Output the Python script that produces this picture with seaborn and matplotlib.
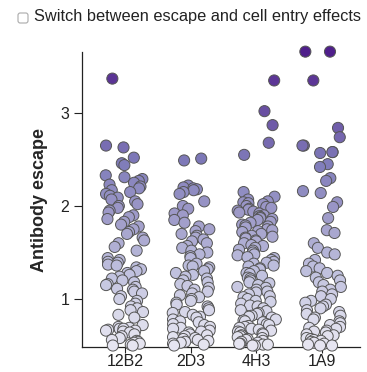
#!/usr/bin/env python3

import numpy as np
import pandas as pd
import matplotlib.pyplot as plt
import seaborn as sns
from matplotlib.patches import FancyBboxPatch

SET_DPI = 100
FIGSIZE = (3.67, 3.72)

ANTIBODIES = ['12B2', '2D3', '4H3', '1A9']

ESCAPE_12B2 = [3.37, 2.65, 2.63, 2.52, 2.46, 2.44,
               2.33, 2.31, 2.29, 2.27, 2.25, 2.23, 2.21, 2.19, 2.17, 2.15, 2.13, 2.11, 2.09, 2.07,
               2.05, 2.02, 2.0, 1.98, 1.95, 1.93, 1.9, 1.88, 1.86, 1.83, 1.8, 1.78, 1.75, 1.72, 1.7,
               1.66, 1.63, 1.6, 1.56, 1.52,
               1.44, 1.42, 1.4, 1.39, 1.37, 1.36, 1.34, 1.32, 1.3, 1.28, 1.26, 1.24, 1.22, 1.2,
               1.18, 1.16, 1.15, 1.13, 1.11, 1.1, 1.08, 1.06,
               1.03, 1.0, 0.98, 0.95, 0.92, 0.9, 0.88, 0.86, 0.83, 0.8,
               0.72, 0.7, 0.69, 0.68, 0.68, 0.67, 0.66, 0.66, 0.65, 0.64, 0.62, 0.6, 0.58,
               0.56, 0.55, 0.54, 0.53, 0.52, 0.51, 0.5, 0.5]

ESCAPE_2D3 = [2.51, 2.49, 2.22, 2.2, 2.19, 2.18, 2.17, 2.15, 2.13,
              2.05, 2.0, 1.97, 1.92, 1.9, 1.85, 1.82, 1.78, 1.75, 1.73, 1.7, 1.68, 1.66, 1.64,
              1.62, 1.6, 1.57, 1.55, 1.52, 1.5, 1.48, 1.46, 1.44,
              1.38, 1.36, 1.35, 1.34, 1.32, 1.3, 1.28, 1.26, 1.24, 1.22, 1.2, 1.18, 1.16, 1.14,
              1.12, 1.1, 1.08, 1.06, 1.04, 1.02, 1.0,
              0.98, 0.96, 0.94, 0.92, 0.9, 0.88, 0.86, 0.85, 0.83, 0.81, 0.8, 0.78, 0.76, 0.75,
              0.73, 0.72, 0.7, 0.69, 0.68, 0.66, 0.65, 0.64, 0.62, 0.61, 0.6, 0.59, 0.58, 0.57,
              0.56, 0.55, 0.54, 0.53, 0.52, 0.51, 0.5]

ESCAPE_4H3 = [3.35, 3.02, 2.87, 2.68, 2.55,
              2.15, 2.1, 2.07, 2.05, 2.04, 2.03, 2.02, 2.0, 1.99, 1.98, 1.97, 1.96, 1.95, 1.94,
              1.93, 1.92, 1.9, 1.89, 1.88, 1.87, 1.86, 1.85, 1.83, 1.82, 1.8, 1.79, 1.78, 1.77,
              1.75, 1.74, 1.73, 1.72, 1.7, 1.68, 1.67, 1.66, 1.65, 1.63, 1.62, 1.6, 1.58, 1.57,
              1.55, 1.53, 1.52, 1.5, 1.48, 1.47, 1.45, 1.44, 1.42, 1.4, 1.39, 1.38, 1.36, 1.35,
              1.33, 1.32, 1.3, 1.28, 1.27, 1.25, 1.23, 1.22, 1.2, 1.18, 1.17, 1.15, 1.13, 1.12,
              1.1, 1.08, 1.07, 1.05, 1.03, 1.02, 1.0, 0.98, 0.97, 0.95, 0.93, 0.92, 0.9, 0.88,
              0.87, 0.85, 0.84, 0.82, 0.81, 0.8, 0.78, 0.77, 0.76, 0.75, 0.73, 0.72, 0.71, 0.7,
              0.69, 0.68, 0.67, 0.66, 0.65, 0.64, 0.63, 0.62, 0.61, 0.6, 0.59, 0.58, 0.57, 0.56,
              0.55, 0.54, 0.53, 0.52, 0.52, 0.51, 0.51, 0.5, 0.5]

ESCAPE_1A9 = [3.66, 3.66, 3.35, 2.84, 2.74, 2.65, 2.65, 2.58, 2.57, 2.58, 2.45, 2.42, 2.3,
              2.27, 2.16, 2.14, 2.04,
              1.99, 1.87, 1.74, 1.71, 1.6, 1.55, 1.5, 1.48,
              1.42, 1.38, 1.35, 1.33, 1.3, 1.28, 1.25, 1.23, 1.2, 1.18, 1.15, 1.13, 1.1, 1.08,
              1.05, 1.03, 1.0, 0.98, 0.96, 0.94, 0.92, 0.9, 0.88, 0.86, 0.84, 0.82, 0.8, 0.78,
              0.76, 0.74, 0.72, 0.7, 0.69, 0.68, 0.66, 0.65, 0.64, 0.62, 0.61, 0.6, 0.58, 0.57,
              0.56, 0.55, 0.54, 0.53, 0.52, 0.51, 0.5, 0.5]

YTICKS = [1, 2, 3]

escape_lists = [ESCAPE_12B2, ESCAPE_2D3, ESCAPE_4H3, ESCAPE_1A9]
df = pd.concat([pd.DataFrame({'antibody': ab, 'escape': vals})
                for ab, vals in zip(ANTIBODIES, escape_lists)], ignore_index=True)

sns.set_style('ticks')
plt.rcParams['font.family'] = ['Liberation Sans', 'DejaVu Sans']

np.random.seed(11)
fig = plt.figure(figsize=FIGSIZE, dpi=SET_DPI)
ax = fig.add_axes([0.2234, 0.0672, 0.7576, 0.793])

sns.stripplot(data=df, x='antibody', y='escape', hue='escape', order=ANTIBODIES,
              palette='Purples', hue_norm=(-0.3, 4.1), jitter=0.3, size=8,
              linewidth=0.7, edgecolor='#555555', legend=False, clip_on=False, ax=ax)

ax.set_xlim(-0.654, 3.578)
ax.set_ylim(0.484, 3.656)
ax.set_yticks(YTICKS)
ax.set_xlabel('')
ax.set_ylabel('Antibody escape', fontsize=13, fontweight='bold', labelpad=9)
ax.tick_params(axis='both', labelsize=11.5, colors='#222222', width=0.8)
ax.tick_params(axis='y', length=6, pad=3)
ax.tick_params(axis='x', length=4, pad=1)
sns.despine(ax=ax)
for s in ['left', 'bottom']:
    ax.spines[s].set_linewidth(0.9)
    ax.spines[s].set_color('#222222')

# checkbox + label above the chart
box = FancyBboxPatch((18 / 367, 1 - 23 / 372), 10 / 367, 10 / 372,
                     boxstyle='round,pad=0,rounding_size=0.006',
                     transform=fig.transFigure, facecolor='white',
                     edgecolor='#aaaaaa', linewidth=0.8)
fig.patches.append(box)
fig.text(34 / 367, 1 - 17 / 372, 'Switch between escape and cell entry effects',
         fontsize=11.8, color='#222222', va='center', ha='left')

plt.savefig('out.png', dpi=SET_DPI)
plt.close('all')
